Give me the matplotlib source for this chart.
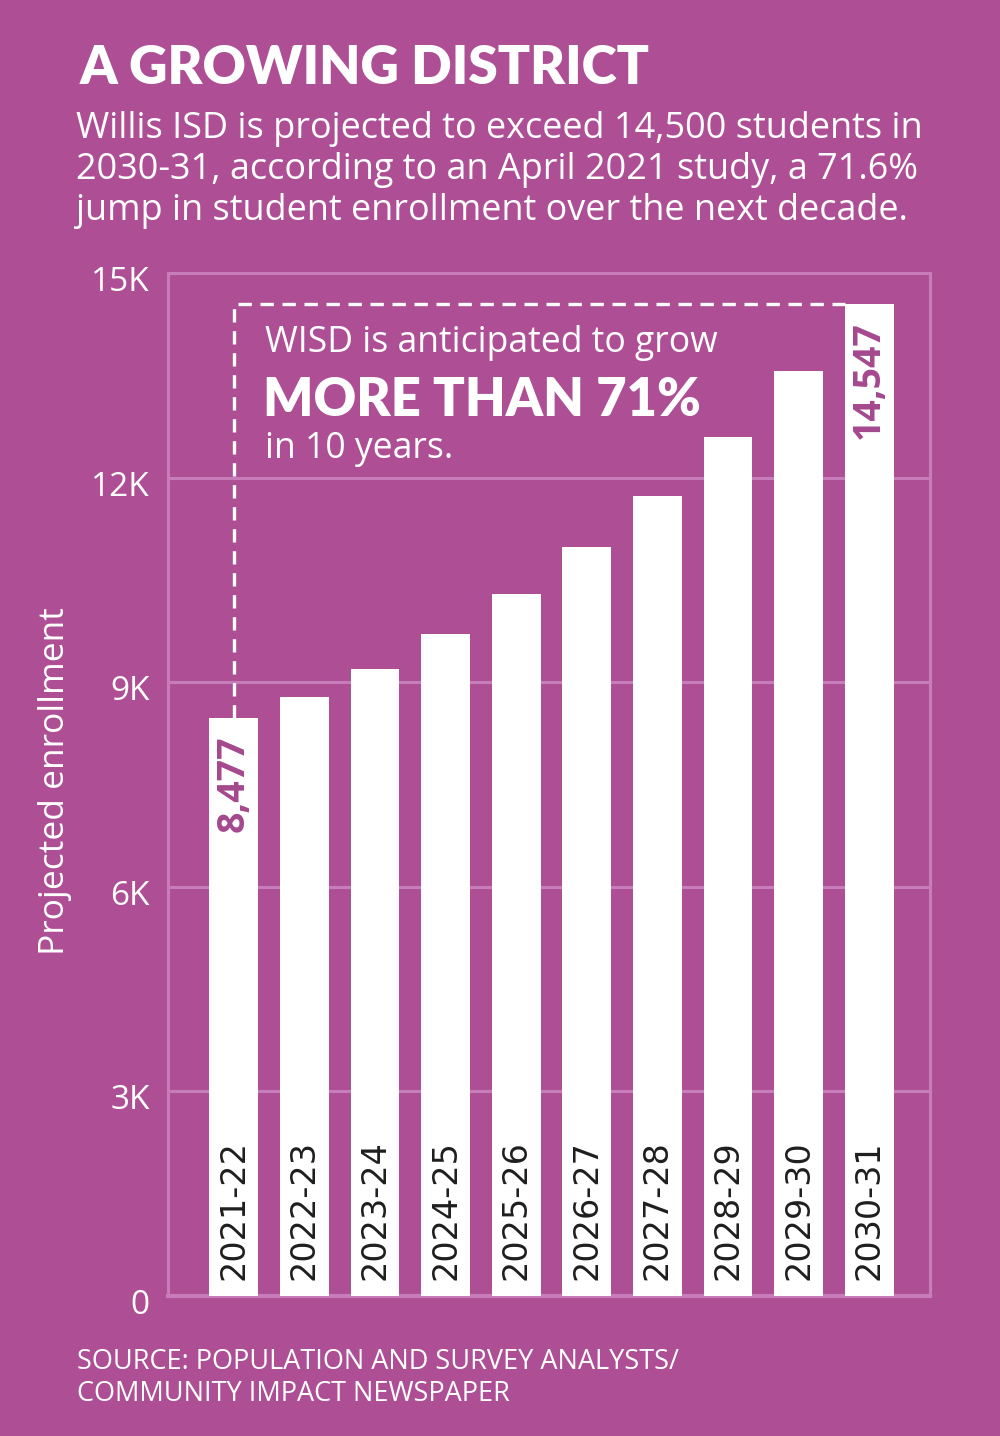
import matplotlib
matplotlib.use("Agg")
import matplotlib.pyplot as plt
import matplotlib.transforms as mtrans

# projected enrollment, Willis ISD
years = ["2021-22", "2022-23", "2023-24", "2024-25", "2025-26",
         "2026-27", "2027-28", "2028-29", "2029-30", "2030-31"]
enrollment = [8477, 8780, 9190, 9710, 10290, 10980, 11730, 12590, 13570, 14547]
y_ticks = [0, 3000, 6000, 9000, 12000, 15000]
y_tick_labels = ["0", "3K", "6K", "9K", "12K", "15K"]

BG = "#AE4F96"
GRID = "#C77DB9"
LABEL_PURPLE = "#A4488E"
SANS = ["Open Sans", "DejaVu Sans"]
HEAVY = ["Lato", "DejaVu Sans"]

W, H = 1000, 1436
fig = plt.figure(figsize=(W / 100, H / 100), dpi=100, facecolor=BG)
ax = fig.add_axes([168 / W, (H - 1296) / H, 762 / W, 1023 / H])
ax.set_facecolor(BG)

x = list(range(len(years)))
bar_w = 0.69
ax.bar(x, enrollment, width=bar_w, color="white", zorder=3)

ax.set_xlim(-0.93, 9.86)
ax.set_ylim(0, 15000)
ax.set_yticks(y_ticks)
ax.set_yticklabels(y_tick_labels, fontsize=24, color="white", family=SANS)
ax.tick_params(axis="y", length=0, pad=13)
# tick labels sit a touch below their gridline in the original
offset = mtrans.ScaledTranslation(0, -4 / 72, fig.dpi_scale_trans)
for lab in ax.get_yticklabels():
    lab.set_transform(lab.get_transform() + offset)
ax.set_xticks([])
ax.grid(axis="y", color=GRID, linewidth=2.2, zorder=1)
for s in ax.spines.values():
    s.set_color(GRID)
    s.set_linewidth(2.2)
ax.spines["bottom"].set_linewidth(3)

fig.text(55 / W, 1 - 781 / H, "Projected enrollment", rotation=90, fontsize=25.5,
         color="white", family=SANS, ha="center", va="center")

# year labels inside the bars
for i, yr in enumerate(years):
    ax.text(i, 230, yr, rotation=90, ha="center", va="bottom",
            fontsize=24, color="#1E1E1E", zorder=5)

# first and last values
ax.text(x[0], enrollment[0] - 260, f"{enrollment[0]:,}", rotation=90, ha="center", va="top",
        fontsize=27, fontweight="bold", color=LABEL_PURPLE, family=SANS, zorder=5)
ax.text(x[-1], enrollment[-1] - 250, f"{enrollment[-1]:,}", rotation=90, ha="center", va="top",
        fontsize=27, fontweight="bold", color=LABEL_PURPLE, family=SANS, zorder=5)

# dashed bracket from first bar to last bar
ax.plot([x[0], x[0], x[-1] - bar_w / 2], [enrollment[0], enrollment[-1], enrollment[-1]],
        color="white", linewidth=2.4, linestyle=(0, (4, 2.6)), zorder=4)

# annotation
fig.text(265 / W, 1 - 343 / H, "WISD is anticipated to grow", fontsize=25.6, color="white",
         family=SANS, va="center")
fig.text(263 / W, 1 - 401 / H, "MORE THAN 71%", fontsize=37.8, color="white",
         family=HEAVY, fontweight="heavy", va="center")
fig.text(265 / W, 1 - 449 / H, "in 10 years.", fontsize=25.6, color="white",
         family=SANS, va="center")

# title block
fig.text(80 / W, 1 - 68 / H, "A GROWING DISTRICT", fontsize=38.3, color="white",
         family=HEAVY, fontweight="heavy", va="center")
subtitle = ("Willis ISD is projected to exceed 14,500 students in\n"
            "2030-31, according to an April 2021 study, a 71.6%\n"
            "jump in student enrollment over the next decade.")
fig.text(76 / W, 1 - 111 / H, subtitle, fontsize=25.9, color="white", family=SANS,
         va="top", linespacing=1.19)

fig.text(77 / W, 1 - 1348 / H,
         "SOURCE: POPULATION AND SURVEY ANALYSTS/\nCOMMUNITY IMPACT NEWSPAPER",
         fontsize=19.5, color="white", family=SANS, va="top", linespacing=1.18)

fig.savefig("out.png", dpi=100, facecolor=BG)
